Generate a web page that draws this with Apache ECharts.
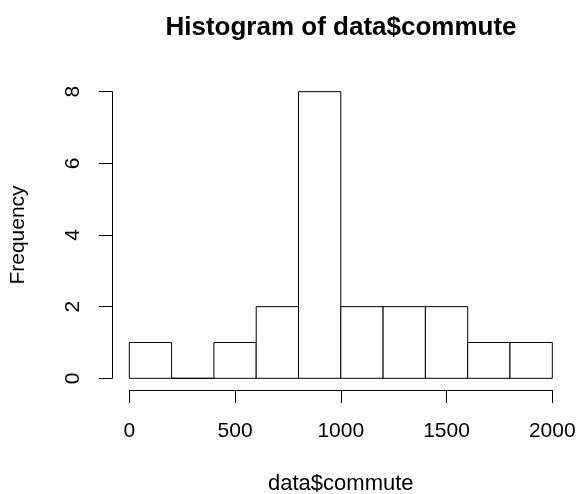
<!DOCTYPE html>
<html>
<head>
<meta charset="utf-8">
<script src="https://cdn.jsdelivr.net/npm/echarts@6/dist/echarts.min.js"></script>
<style>
html,body{margin:0;padding:0;background:#fff;}
#chart{width:579px;height:494px;}
</style>
</head>
<body>
<div id="chart"></div>
<script>
const titleText = "Histogram of data$commute";
const xName = "data$commute";
const yName = "Frequency";
const binStarts = [0, 200, 400, 600, 800, 1000, 1200, 1400, 1600, 1800];
const binEnds = [200, 400, 600, 800, 1000, 1200, 1400, 1600, 1800, 2000];
const counts = [1, 0, 1, 2, 8, 2, 2, 2, 1, 1];
const xTicks = [0, 500, 1000, 1500, 2000];
const yTicks = [0, 2, 4, 6, 8];

const FONT = '"Liberation Sans", Arial, Helvetica, sans-serif';
const data = binStarts.map((s, i) => [s, binEnds[i], counts[i]]);

const chart = echarts.init(document.getElementById('chart'), null, {renderer: 'canvas'});
chart.setOption({
  backgroundColor: '#ffffff',
  animation: false,
  title: {
    text: titleText,
    left: 341,
    textAlign: 'center',
    top: 14.5,
    padding: 0,
    textStyle: {fontFamily: FONT, fontSize: 26, fontWeight: 'bold', color: '#000'}
  },
  grid: {left: 129.3, right: 26.7, top: 91.7, bottom: 115.7, containLabel: false, outerBoundsMode: 'none'},
  xAxis: {
    type: 'value',
    min: xTicks[0], max: xTicks[xTicks.length - 1], interval: 500,
    offset: 11.7,
    name: xName, nameLocation: 'middle', nameGap: 83, nameMoveOverlap: false,
    nameTextStyle: {fontFamily: FONT, fontSize: 22, color: '#000'},
    axisLine: {show: true, onZero: false, lineStyle: {color: '#000', width: 1}},
    axisTick: {show: true, length: 13, lineStyle: {color: '#000', width: 1}},
    axisLabel: {fontFamily: FONT, fontSize: 21, color: '#000', margin: 31, formatter: v => String(v)},
    splitLine: {show: false}
  },
  yAxis: {
    type: 'value',
    min: yTicks[0], max: yTicks[yTicks.length - 1], interval: 2,
    offset: 17.3,
    name: yName, nameLocation: 'middle', nameGap: 83, nameMoveOverlap: false,
    nameTextStyle: {fontFamily: FONT, fontSize: 21, color: '#000'},
    axisLine: {show: true, onZero: false, lineStyle: {color: '#000', width: 1}},
    axisTick: {show: true, length: 13, lineStyle: {color: '#000', width: 1}},
    axisLabel: {fontFamily: FONT, fontSize: 21, color: '#000', margin: 28, rotate: 90, formatter: v => String(v)},
    splitLine: {show: false}
  },
  series: [{
    type: 'custom',
    data: data,
    encode: {x: [0, 1], y: 2},
    renderItem: function (params, api) {
      const p0 = api.coord([api.value(0), 0]);
      const p1 = api.coord([api.value(1), api.value(2)]);
      return {
        type: 'rect',
        shape: {x: p0[0], y: p1[1], width: p1[0] - p0[0], height: p0[1] - p1[1]},
        style: {fill: '#ffffff', stroke: '#000000', lineWidth: 1}
      };
    }
  }]
});
</script>
</body>
</html>
